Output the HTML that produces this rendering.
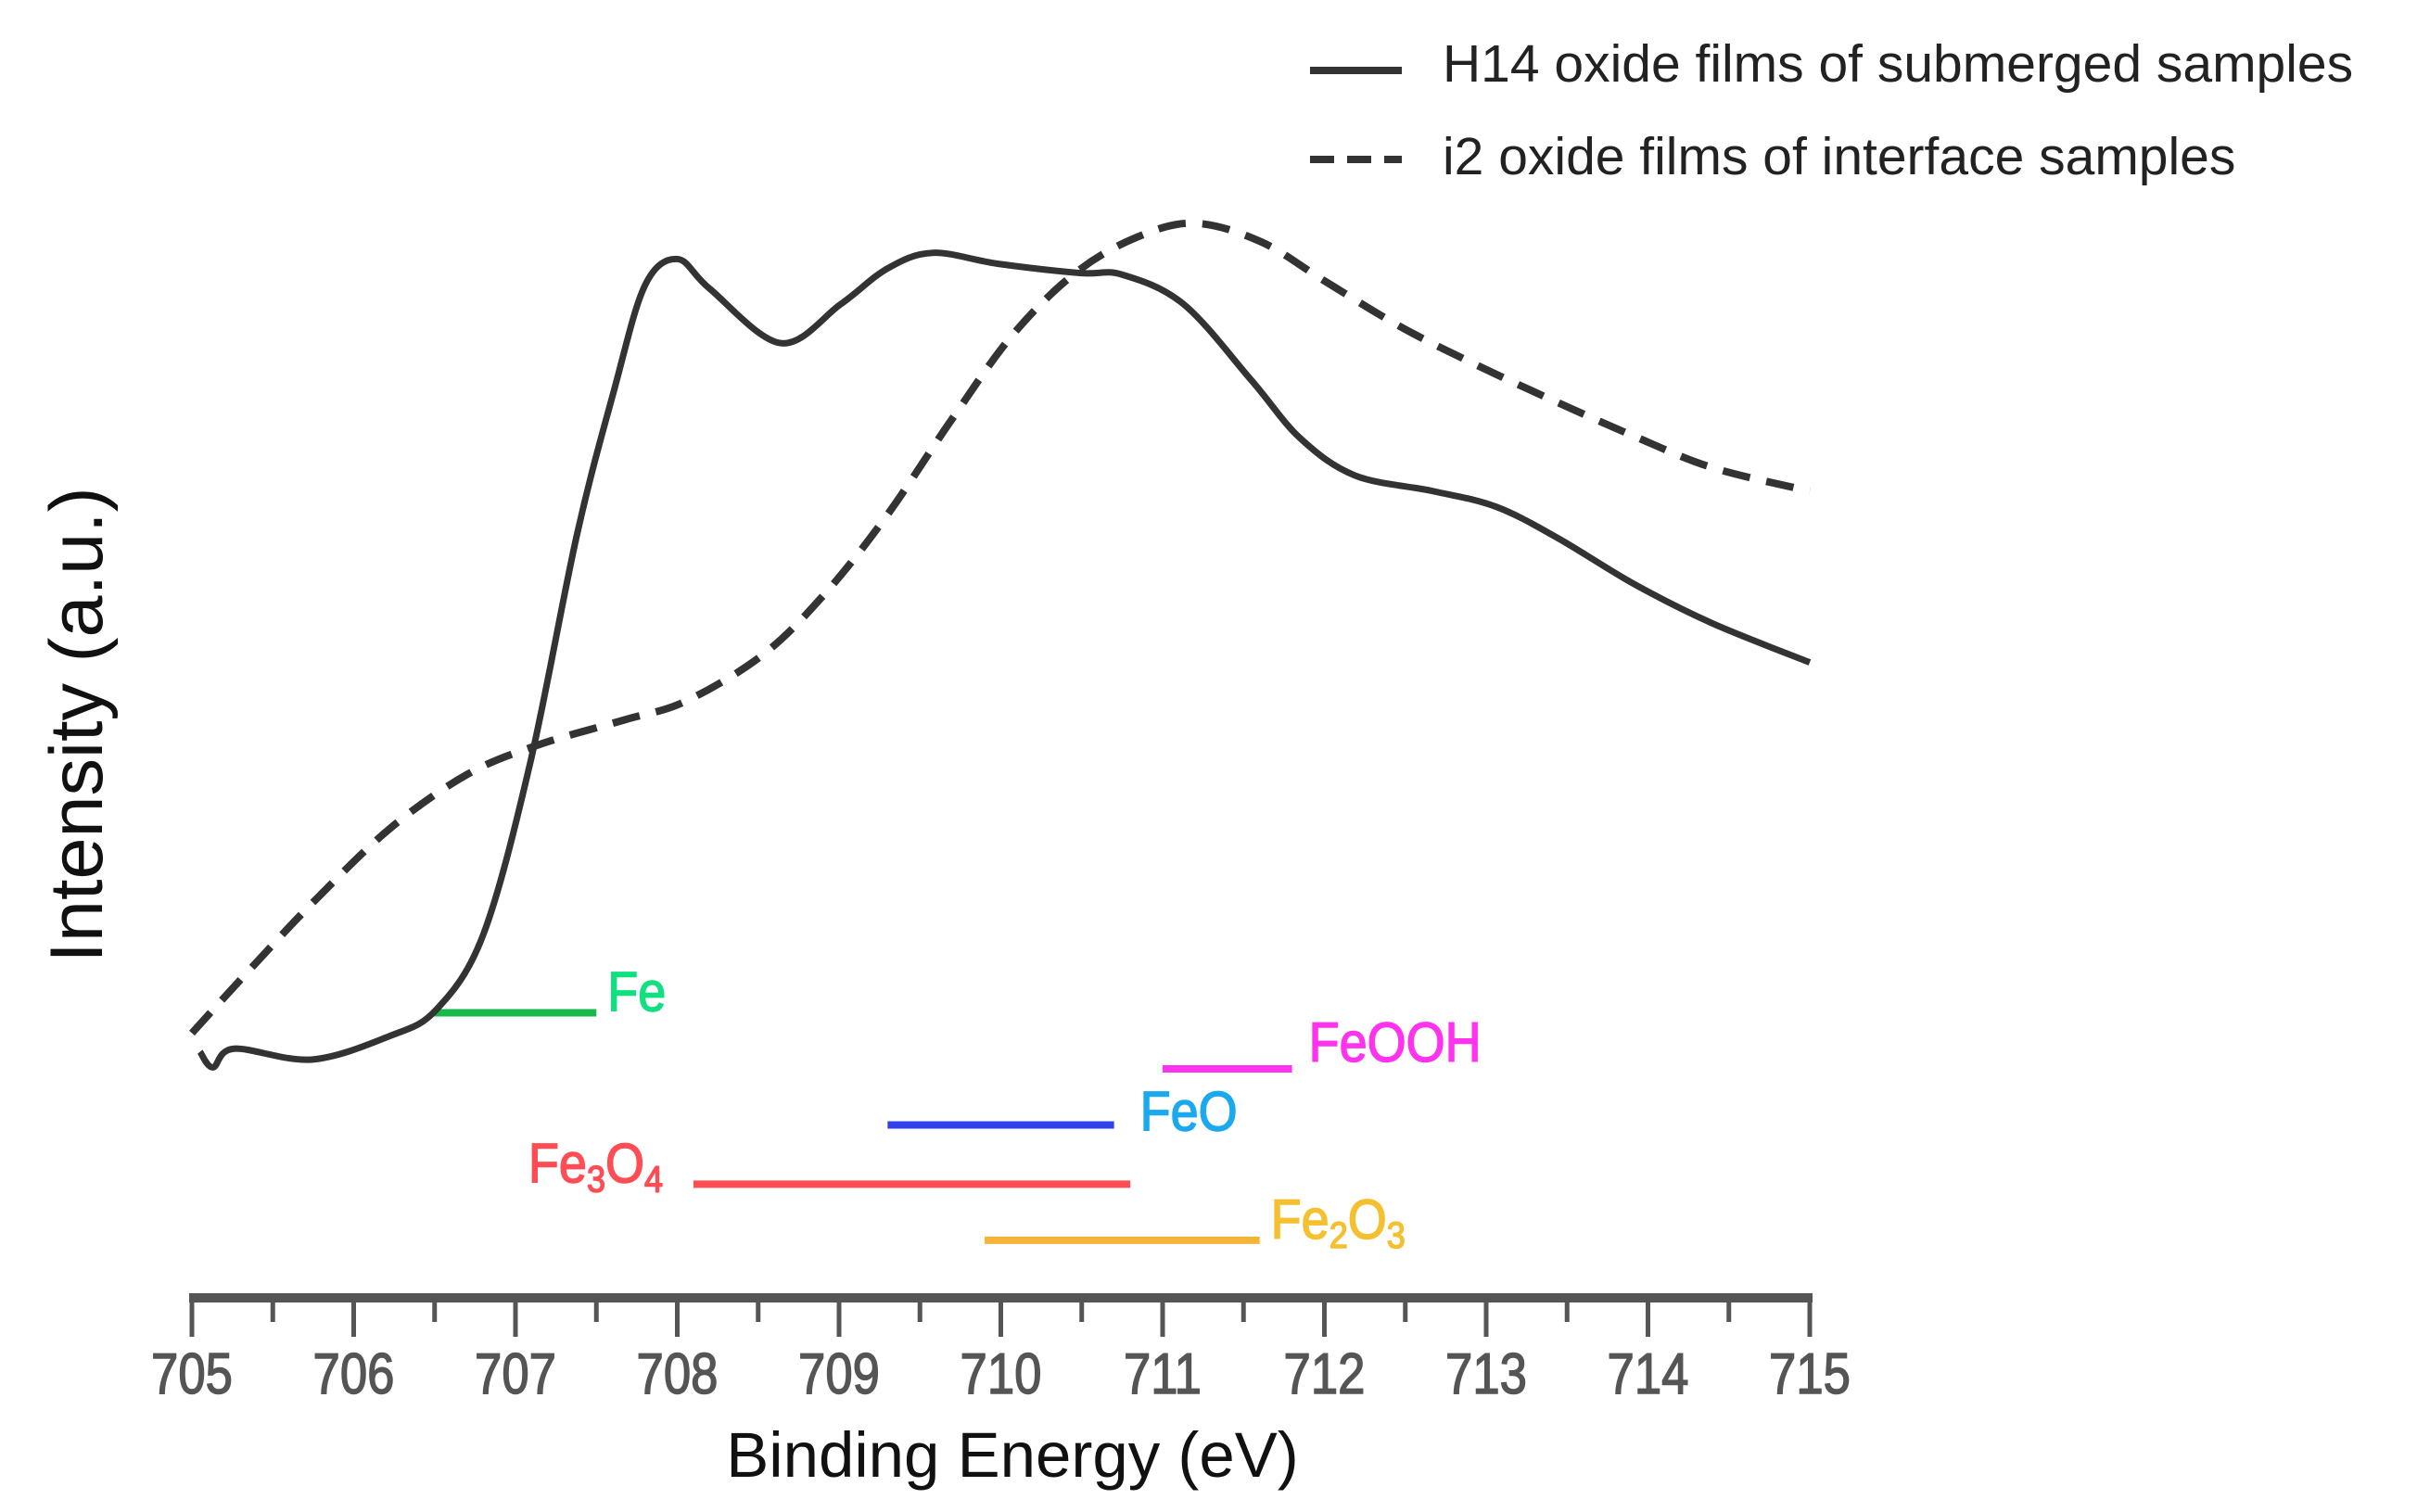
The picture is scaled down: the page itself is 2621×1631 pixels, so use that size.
<!DOCTYPE html>
<html><head><meta charset="utf-8"><style>
html,body{margin:0;padding:0;background:#fff;}
svg{display:block;font-family:"Liberation Sans",sans-serif;}
</style></head><body>
<svg id="chart" width="2621" height="1631" viewBox="0 0 2621 1631" xmlns="http://www.w3.org/2000/svg">
<g id="plot"></g>
<g>
 <line x1="1413" y1="76" x2="1512" y2="76" stroke="#333" stroke-width="8"/>
 <text x="1556" y="88" font-size="57" fill="#222">H14 oxide films of submerged samples</text>
 <line x1="1413" y1="172" x2="1512" y2="172" stroke="#333" stroke-width="8" stroke-dasharray="26,14"/>
 <text x="1556" y="188" font-size="57" fill="#222">i2 oxide films of interface samples</text>
</g>
<text transform="translate(110,782) rotate(-90)" text-anchor="middle" font-size="81" fill="#111">Intensity (a.u.)</text>
<text x="1092" y="1593" text-anchor="middle" font-size="69" fill="#111">Binding Energy (eV)</text>
</svg>
<script>
const ticks = [705,706,707,708,709,710,711,712,713,714,715];
const solidE = [705.05,705.13,705.26,705.74,706.22,706.51,706.8,707.09,707.38,707.61,707.8,708.0,708.2,708.64,709.01,709.3,709.58,709.98,710.49,710.75,711.13,711.55,711.85,712.19,712.67,713.06,713.44,713.92,714.4,715.0];
const solidI = [158,148,160,153,168,185,233,343,490,583,650,667,648,613,638,661,671,664,658,657,638,589,552,528,518,508,488,458,433,408];
const dashE = [705.0,705.36,705.74,706.22,706.7,707.14,707.67,708.05,708.53,708.92,709.3,709.69,710.07,710.46,710.84,711.2,711.61,712.0,712.48,712.96,713.44,713.92,714.4,715.0];
const dashI = [170,211,253,301,336,355,371,383,413,453,503,563,618,658,681,690,678,653,623,598,575,553,533,518];
const refNames = ["Fe","FeOOH","FeO","Fe3O4","Fe2O3"];
const refStart = [706.5,711.0,709.3,708.1,709.9];
const refEnd = [707.5,711.8,710.7,710.8,711.6];
const refLevel = [183,147,111,73,37];
const refColors = ["#19b84a","#ff33ee","#3340ee","#ff4d55","#f5b43a"];
const refLabelColors = ["#10e080","#ff33ee","#1aa8ee","#ff4d55","#f5c030"];

const NS="http://www.w3.org/2000/svg";
const g=document.getElementById('plot');
const X0=207, X1=1952, Y0=1400;
function xs(e){return X0+(e-705)*(X1-X0)/10;}
function ys(v){return Y0-v*1.68;}
function mk(t,a){const el=document.createElementNS(NS,t);for(const k in a)el.setAttribute(k,a[k]);g.appendChild(el);return el;}
function smooth(E,I){
 const p=E.map((e,i)=>[xs(e),ys(I[i])]);
 let d='M'+p[0][0]+','+p[0][1];
 for(let i=0;i<p.length-1;i++){
  const p0=p[Math.max(0,i-1)],p1=p[i],p2=p[i+1],p3=p[Math.min(p.length-1,i+2)];
  const c1=[p1[0]+(p2[0]-p0[0])/6,p1[1]+(p2[1]-p0[1])/6];
  const c2=[p2[0]-(p3[0]-p1[0])/6,p2[1]-(p3[1]-p1[1])/6];
  d+=' C'+c1[0]+','+c1[1]+' '+c2[0]+','+c2[1]+' '+p2[0]+','+p2[1];
 }
 return d;
}
let ax=mk('line',{x1:X0-3,y1:Y0,x2:X1+3,y2:Y0,stroke:'#555','stroke-width':10});


for(let i=0;i<ticks.length;i++){
 const x=xs(ticks[i]);
 let t=mk('line',{x1:x,y1:Y0,x2:x,y2:Y0+42,stroke:'#555','stroke-width':5});
 
 
 let l=mk('text',{x:x,y:Y0+103,'text-anchor':'middle','font-size':62,fill:'#555',stroke:'#555','stroke-width':1.5,transform:'translate('+x+',0) scale(0.85,1) translate('+(-x)+',0)'});
 l.textContent=ticks[i];
 
 
 if(i<ticks.length-1){
  const xm=xs(ticks[i]+0.5);
  let m=mk('line',{x1:xm,y1:Y0,x2:xm,y2:Y0+26,stroke:'#555','stroke-width':5});
  
  
 }
}
for(let i=0;i<refNames.length;i++){
 const y=ys(refLevel[i]);
 let b=mk('line',{x1:xs(refStart[i]),y1:y,x2:xs(refEnd[i]),y2:y,stroke:refColors[i],'stroke-width':8});
 
 
}
function label(txt,x,y,c,name){let t=mk('text',{x:x,y:y,'font-size':60,fill:c,stroke:c,'stroke-width':1.5,transform:'translate('+x+',0) scale(0.9,1) translate('+(-x)+',0)'});t.innerHTML=txt;return t;}
label('Fe',xs(refEnd[0])+12,ys(refLevel[0])-2,refLabelColors[0],'ref-label-fe');
label('FeOOH',xs(refEnd[1])+18,ys(refLevel[1])-8,refLabelColors[1],'ref-label-feooh');
label('FeO',xs(refEnd[2])+28,ys(refLevel[2])+6,refLabelColors[2],'ref-label-feo');
label('Fe<tspan font-size="40" dy="10">3</tspan><tspan dy="-10">O</tspan><tspan font-size="40" dy="10">4</tspan>',xs(refStart[3])-178,ys(refLevel[3])-2,refLabelColors[3],'ref-label-fe3o4');
label('Fe<tspan font-size="40" dy="10">2</tspan><tspan dy="-10">O</tspan><tspan font-size="40" dy="10">3</tspan>',xs(refEnd[4])+12,ys(refLevel[4])-2,refLabelColors[4],'ref-label-fe2o3');
let s=mk('path',{d:smooth(solidE,solidI),fill:'none',stroke:'#333','stroke-width':7,'stroke-linejoin':'round'});


let dd=mk('path',{d:smooth(dashE,dashI),fill:'none',stroke:'#333','stroke-width':8,'stroke-dasharray':'30,18'});


</script>
</body></html>
